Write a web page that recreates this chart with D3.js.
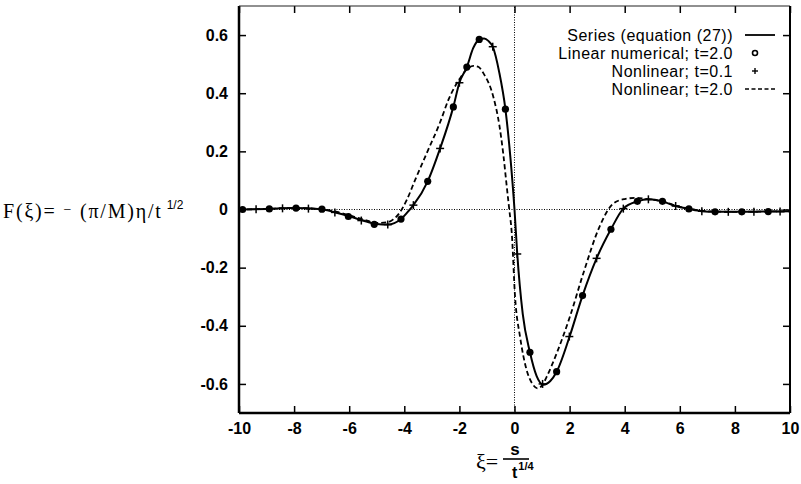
<!DOCTYPE html>
<html>
<head>
<meta charset="utf-8">
<script src="https://cdn.jsdelivr.net/npm/d3@7"></script>
<style>
  body { margin: 0; background: #fff; }
  svg { display: block; }
  .tick text { font-family: "Liberation Sans", Arial, sans-serif; font-weight: bold; font-size: 16px; fill: #000; }
  .tick line { stroke: #000; stroke-width: 1.5; }
</style>
</head>
<body>
<script>
// series (equation (27)) — solid
var seriesX = [-10, -9, -8, -7, -6.5, -6, -5.5, -5, -4.6, -4.12, -3.8, -3.67, -3.15, -2.7, -2.22, -2.0, -1.73, -1.5, -1.28, -1.1, -0.95, -0.79, -0.55, -0.33, -0.15, 0, 0.1, 0.3, 0.56, 0.8, 1.05, 1.3, 1.53, 2.0, 2.47, 2.98, 3.5, 3.95, 4.46, 4.86, 5.37, 5.85, 6.33, 6.8, 7.3, 8, 9, 10]
var seriesY = [0, 0.002, 0.005, 0.001, -0.01, -0.023, -0.038, -0.05, -0.052, -0.033, 0.0, 0.015, 0.097, 0.21, 0.353, 0.436, 0.49, 0.555, 0.585, 0.588, 0.58, 0.56, 0.47, 0.345, 0.18, 0.0, -0.153, -0.36, -0.491, -0.572, -0.603, -0.59, -0.558, -0.437, -0.296, -0.168, -0.068, 0.003, 0.028, 0.035, 0.028, 0.012, 0.002, -0.006, -0.008, -0.008, -0.007, -0.006]

// nonlinear; t=2.0 — dashed
var dashX = [-10, -9, -8, -7, -6, -5.5, -5, -4.6, -4.4, -4.2, -3.91, -3.61, -3.19, -2.7, -2.4, -1.98, -1.75, -1.49, -1.3, -1.13, -0.77, -0.55, -0.41, -0.28, -0.19, -0.1, 0.02, 0.2, 0.44, 0.65, 0.83, 1.0, 1.17, 1.53, 2.01, 2.5, 3.1, 3.59, 4.0, 4.4, 4.86, 5.4, 5.9, 6.4, 7, 8, 9, 10]
var dashY = [0, 0.002, 0.005, 0.001, -0.02, -0.034, -0.046, -0.044, -0.034, -0.015, 0.033, 0.101, 0.193, 0.3, 0.377, 0.451, 0.48, 0.494, 0.49, 0.469, 0.388, 0.29, 0.193, 0.078, 0.0, -0.08, -0.3, -0.437, -0.552, -0.6, -0.615, -0.605, -0.575, -0.495, -0.369, -0.219, -0.056, 0.021, 0.036, 0.04, 0.035, 0.027, 0.012, 0.002, -0.006, -0.008, -0.007, -0.006]

// linear numerical; t=2.0 — dots
var linX = [-9.87, -8.9, -7.93, -6.99, -6.03, -5.09, -4.12, -3.15, -2.22, -1.73, -1.28, -0.33, 0.56, 1.53, 2.47, 3.5, 4.46, 5.37, 6.33, 7.28, 8.25, 9.21]
var linY = [0, 0.002, 0.005, 0.001, -0.024, -0.051, -0.033, 0.097, 0.353, 0.49, 0.585, 0.345, -0.491, -0.558, -0.296, -0.068, 0.028, 0.028, 0.002, -0.008, -0.008, -0.007]

// nonlinear; t=0.1 — pluses
var nlX = [-9.38, -8.42, -7.48, -6.52, -5.56, -4.6, -3.67, -2.7, -2.0, -0.79, 0.1, 1.02, 1.99, 2.98, 3.95, 4.86, 5.85, 6.8, 7.76, 8.69, 9.64]
var nlY = [0.001, 0.004, 0.003, -0.01, -0.038, -0.052, 0.015, 0.21, 0.436, 0.56, -0.153, -0.6, -0.437, -0.168, 0.003, 0.035, 0.012, -0.006, -0.008, -0.008, -0.007]

var xTicks = [-10, -8, -6, -4, -2, 0, 2, 4, 6, 8, 10]
var yTicks = [-0.6, -0.4, -0.2, 0, 0.2, 0.4, 0.6]
var legendLabels = ["Series (equation (27))", "Linear numerical; t=2.0", "Nonlinear; t=0.1", "Nonlinear; t=2.0"]

var width = 801, height = 484
var margin = {left: 239, right: 11, top: 6, bottom: 71}
var pw = width - margin.left - margin.right
var ph = height - margin.top - margin.bottom

var svg = d3.select("body").append("svg")
	.attr("width", width)
	.attr("height", height)

var x = d3.scaleLinear().domain([-10, 10]).range([margin.left, margin.left + pw])
var y = d3.scaleLinear().domain([-0.7, 0.7]).range([margin.top + ph, margin.top])

var zip = (xs, ys) => xs.map((v, i) => [v, ys[i]])

// zero lines (dotted)
svg.append("line")
	.attr("x1", x(-10)).attr("x2", x(10))
	.attr("y1", y(0)).attr("y2", y(0))
	.attr("stroke", "#000").attr("stroke-width", 1).attr("stroke-dasharray", "1,1.5")
svg.append("line")
	.attr("x1", x(0)).attr("x2", x(0))
	.attr("y1", y(-0.7)).attr("y2", y(0.7))
	.attr("stroke", "#000").attr("stroke-width", 1).attr("stroke-dasharray", "1,1.5")

// axes, ticks pointing inward, mirrored on top/right
var fmtY = (d) => d === 0 ? "0" : d.toFixed(1)
var axBottom = svg.append("g")
	.attr("transform", "translate(0," + (margin.top + ph) + ")")
	.call(d3.axisBottom(x).tickValues(xTicks).tickSize(-7).tickPadding(11).tickFormat((d) => String(d)))
var axLeft = svg.append("g")
	.attr("transform", "translate(" + margin.left + ",0)")
	.call(d3.axisLeft(y).tickValues(yTicks).tickSize(-7).tickPadding(11).tickFormat(fmtY))
var axTop = svg.append("g")
	.attr("transform", "translate(0," + margin.top + ")")
	.call(d3.axisTop(x).tickValues(xTicks).tickSize(-7).tickFormat(""))
var axRight = svg.append("g")
	.attr("transform", "translate(" + (margin.left + pw) + ",0)")
	.call(d3.axisRight(y).tickValues(yTicks).tickSize(-7).tickFormat(""))
;[axBottom, axLeft, axTop, axRight].forEach((g) => g.select(".domain").remove())
axBottom.selectAll(".tick text").attr("dy", "0.65em")

// frame: heavier left/bottom, lighter top/right (as scanned)
svg.append("line").attr("x1", margin.left).attr("x2", margin.left).attr("y1", margin.top).attr("y2", margin.top + ph)
	.attr("stroke", "#000").attr("stroke-width", 2.5)
svg.append("line").attr("x1", margin.left).attr("x2", margin.left + pw).attr("y1", margin.top + ph).attr("y2", margin.top + ph)
	.attr("stroke", "#000").attr("stroke-width", 2.5)
svg.append("line").attr("x1", margin.left).attr("x2", margin.left + pw).attr("y1", margin.top).attr("y2", margin.top)
	.attr("stroke", "#222").attr("stroke-width", 1.2)
svg.append("line").attr("x1", margin.left + pw).attr("x2", margin.left + pw).attr("y1", margin.top).attr("y2", margin.top + ph)
	.attr("stroke", "#000").attr("stroke-width", 2)

// curves
var line = d3.line().x((d) => x(d[0])).y((d) => y(d[1])).curve(d3.curveMonotoneX)
svg.append("path")
	.datum(zip(dashX, dashY))
	.attr("d", line)
	.attr("fill", "none").attr("stroke", "#000").attr("stroke-width", 1.8).attr("stroke-dasharray", "5,3")
svg.append("path")
	.datum(zip(seriesX, seriesY))
	.attr("d", line)
	.attr("fill", "none").attr("stroke", "#000").attr("stroke-width", 2)

// markers
svg.selectAll(".lin")
	.data(zip(linX, linY))
	.enter()
	.append("circle")
	.attr("class", "lin")
	.attr("cx", (d) => x(d[0]))
	.attr("cy", (d) => y(d[1]))
	.attr("r", 3.6)
	.attr("fill", "#000")
var plus = (g, s) => {
	g.append("line").attr("x1", -s).attr("x2", s).attr("y1", 0).attr("y2", 0)
	g.append("line").attr("x1", 0).attr("x2", 0).attr("y1", -s).attr("y2", s)
}
svg.selectAll(".nl")
	.data(zip(nlX, nlY))
	.enter()
	.append("g")
	.attr("class", "nl")
	.attr("transform", (d) => "translate(" + x(d[0]) + "," + y(d[1]) + ")")
	.attr("stroke", "#000").attr("stroke-width", 1.5)
	.each(function () { plus(d3.select(this), 4) })

// legend
var legend = svg.append("g")
	.attr("font-family", "'Liberation Sans', Arial, sans-serif")
	.attr("font-size", "16px")
	.attr("letter-spacing", "0.5px")
legendLabels.forEach((label, i) => {
	var cy = 35 + i * 18
	legend.append("text")
		.attr("x", 733).attr("y", cy)
		.attr("dy", "0.36em")
		.attr("text-anchor", "end")
		.text(label)
	if (i === 0) {
		legend.append("line").attr("x1", 745).attr("x2", 775).attr("y1", cy).attr("y2", cy)
			.attr("stroke", "#000").attr("stroke-width", 1.8)
	} else if (i === 1) {
		legend.append("circle").attr("cx", 755).attr("cy", cy).attr("r", 2.5)
			.attr("fill", "#fff").attr("stroke", "#000").attr("stroke-width", 1.6)
	} else if (i === 2) {
		var g = legend.append("g").attr("transform", "translate(755," + cy + ")")
			.attr("stroke", "#000").attr("stroke-width", 1.4)
		plus(g, 3)
	} else {
		legend.append("line").attr("x1", 745).attr("x2", 775).attr("y1", cy).attr("y2", cy)
			.attr("stroke", "#000").attr("stroke-width", 1.5).attr("stroke-dasharray", "4,2.5")
	}
})

// y label: F(ξ) = −(π/M)η/t^{1/2}
var ylab = svg.append("text")
	.attr("x", 3).attr("y", 218)
	.attr("font-family", "'Liberation Serif', 'Times New Roman', serif")
	.attr("font-size", "20px")
	.attr("letter-spacing", "1.8px")
ylab.append("tspan").text("F(ξ)= ")
ylab.append("tspan").attr("font-size", "14px").attr("dy", -4).text("−")
ylab.append("tspan").attr("dy", 4).text(" (π/M)η/t")
ylab.append("tspan")
	.attr("font-family", "'Liberation Sans', Arial, sans-serif")
	.attr("letter-spacing", "0")
	.attr("font-size", "12px").attr("dx", 4).attr("dy", -9).text("1/2")

// x label: ξ = s / t^{1/4}
svg.append("text")
	.attr("x", 476).attr("y", 469)
	.attr("font-family", "'Liberation Serif', 'Times New Roman', serif")
	.attr("font-size", "22px")
	.text("ξ=")
svg.append("text")
	.attr("x", 515).attr("y", 455)
	.attr("text-anchor", "middle")
	.attr("font-family", "'Liberation Sans', Arial, sans-serif")
	.attr("font-weight", "bold").attr("font-size", "17px")
	.text("s")
svg.append("line")
	.attr("x1", 503).attr("x2", 529).attr("y1", 459).attr("y2", 459)
	.attr("stroke", "#000").attr("stroke-width", 1.6)
var den = svg.append("text")
	.attr("x", 512).attr("y", 478)
	.attr("font-family", "'Liberation Sans', Arial, sans-serif")
	.attr("font-weight", "bold").attr("font-size", "16px")
den.append("tspan").text("t")
den.append("tspan").attr("font-size", "11px").attr("dx", 1).attr("dy", -8).text("1/4")
</script>
</body>
</html>
